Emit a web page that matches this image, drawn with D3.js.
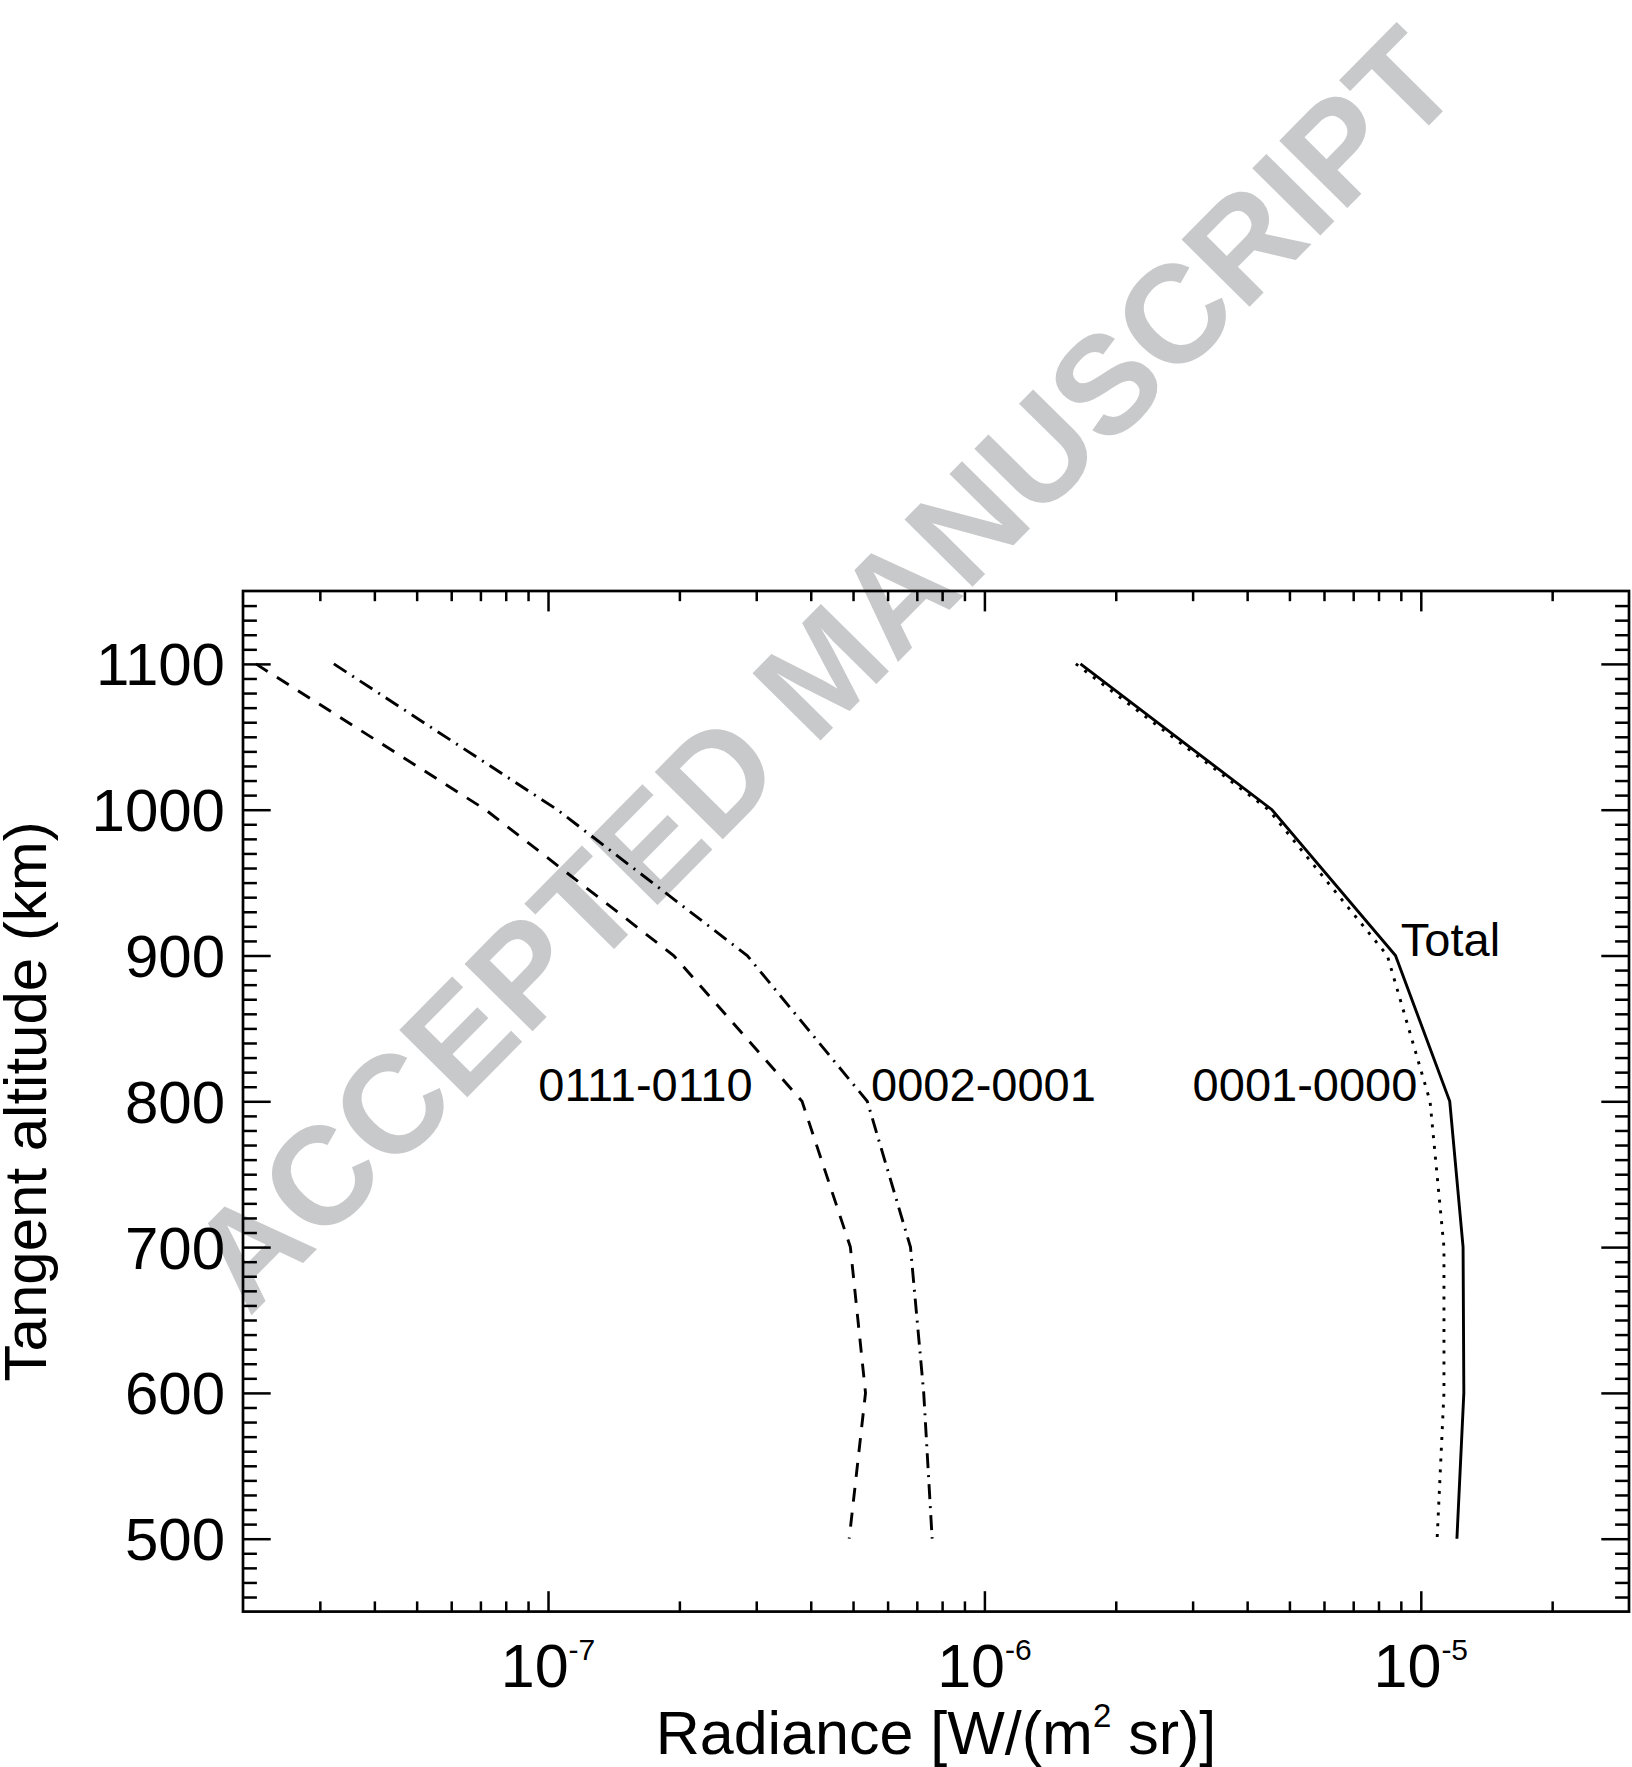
<!DOCTYPE html>
<html>
<head>
<meta charset="utf-8">
<script src="https://cdn.jsdelivr.net/npm/d3@7"></script>
<style>
  body { margin: 0; background: #fff; }
  text { font-family: "Liberation Sans", Arial, Helvetica, sans-serif; }
</style>
</head>
<body>
<script>
var w = 1632,
    h = 1767;

// tangent altitudes (km) and radiances W/(m2 sr)
var altitudes = [1100, 1000, 900, 800, 700, 600, 500];
var band0111 = [2.14e-8, 7.19e-8, 1.94e-7, 3.82e-7, 4.93e-7, 5.34e-7, 4.90e-7];
var band0002 = [3.23e-8, 1.05e-7, 2.86e-7, 5.39e-7, 6.77e-7, 7.26e-7, 7.59e-7];
var band0001 = [1.62e-6, 4.48e-6, 8.38e-6, 1.05e-5, 1.13e-5, 1.13e-5, 1.09e-5];
var total    = [1.66e-6, 4.56e-6, 8.75e-6, 1.165e-5, 1.25e-5, 1.255e-5, 1.21e-5];

var yTicks = [500, 600, 700, 800, 900, 1000, 1100];
var xTicks = [1e-7, 1e-6, 1e-5];
var xTickExp = ['-7', '-6', '-5'];

var labelText = ['0111-0110', '0002-0001', '0001-0000', 'Total'];
var labelRad  = [9.5e-8, 5.5e-7, 3e-6, 9e-6];
var labelAlt  = [800, 800, 800, 900];

var pLeft = 243, pRight = 1629, pTop = 591, pBottom = 1611.6;

var svg = d3.select('body')
            .append('svg')
            .attr('width', w)
            .attr('height', h);

svg.append('rect')
   .attr('width', w)
   .attr('height', h)
   .attr('fill', '#fff');

var x = d3.scaleLog()
          .domain([2e-8, 3e-5])
          .range([pLeft, pRight]);

var y = d3.scaleLinear()
          .domain([450, 1150])
          .range([pBottom, pTop]);

// watermark sits under the curves
svg.append('text')
   .attr('transform', 'translate(822,668) rotate(-45.3)')
   .attr('text-anchor', 'middle')
   .attr('dy', '0.358em')
   .style('font-size', '139px')
   .style('font-weight', 'bold')
   .style('fill', '#c8c9cb')
   .text('ACCEPTED MANUSCRIPT');

// minor tick values
var xMinor = [];
[-8, -7, -6, -5].forEach(function(e) {
  for (var k = 2; k <= 9; k++) {
    var v = k * Math.pow(10, e);
    if (v > 2.01e-8 && v < 2.99e-5) xMinor.push(v);
  }
});
var yMinor = d3.range(460, 1150, 10).filter(function(v) { return v % 100 !== 0; });

function styleAxis(g) {
  g.select('.domain').remove();
  g.selectAll('line').attr('stroke', '#000').attr('stroke-width', 2.5);
  g.selectAll('text').remove();
}

var xMaj = 20.4, xMin = 10.2, yMaj = 27.7, yMin = 13.9;

svg.append('g').attr('transform', 'translate(0,' + pBottom + ')')
   .call(d3.axisBottom(x).tickValues(xTicks).tickSize(-xMaj).tickSizeOuter(0)).call(styleAxis);
svg.append('g').attr('transform', 'translate(0,' + pBottom + ')')
   .call(d3.axisBottom(x).tickValues(xMinor).tickSize(-xMin).tickSizeOuter(0)).call(styleAxis);
svg.append('g').attr('transform', 'translate(0,' + pTop + ')')
   .call(d3.axisTop(x).tickValues(xTicks).tickSize(-xMaj).tickSizeOuter(0)).call(styleAxis);
svg.append('g').attr('transform', 'translate(0,' + pTop + ')')
   .call(d3.axisTop(x).tickValues(xMinor).tickSize(-xMin).tickSizeOuter(0)).call(styleAxis);

svg.append('g').attr('transform', 'translate(' + pLeft + ',0)')
   .call(d3.axisLeft(y).tickValues(yTicks).tickSize(-yMaj).tickSizeOuter(0)).call(styleAxis);
svg.append('g').attr('transform', 'translate(' + pLeft + ',0)')
   .call(d3.axisLeft(y).tickValues(yMinor).tickSize(-yMin).tickSizeOuter(0)).call(styleAxis);
svg.append('g').attr('transform', 'translate(' + pRight + ',0)')
   .call(d3.axisRight(y).tickValues(yTicks).tickSize(-yMaj).tickSizeOuter(0)).call(styleAxis);
svg.append('g').attr('transform', 'translate(' + pRight + ',0)')
   .call(d3.axisRight(y).tickValues(yMinor).tickSize(-yMin).tickSizeOuter(0)).call(styleAxis);

// frame
svg.append('rect')
   .attr('x', pLeft)
   .attr('y', pTop)
   .attr('width', pRight - pLeft)
   .attr('height', pBottom - pTop)
   .attr('fill', 'none')
   .attr('stroke', '#000')
   .attr('stroke-width', 2.7);

// tick labels
svg.selectAll('.ylab')
   .data(yTicks)
   .enter()
   .append('text')
   .attr('x', 225)
   .attr('y', function(d) { return y(d); })
   .attr('dy', '0.358em')
   .attr('text-anchor', 'end')
   .style('font-size', '60px')
   .text(function(d) { return d; });

var xl = svg.selectAll('.xlab')
   .data(xTicks)
   .enter()
   .append('text')
   .attr('x', function(d) { return x(d); })
   .attr('y', 1687)
   .attr('text-anchor', 'middle')
   .style('font-size', '61px');
xl.append('tspan').text('10');
xl.append('tspan')
  .attr('dy', -27)
  .style('font-size', '30px')
  .text(function(d, i) { return xTickExp[i]; });

// axis titles
var xt = svg.append('text')
   .attr('x', (pLeft + pRight) / 2)
   .attr('y', 1754)
   .attr('text-anchor', 'middle')
   .style('font-size', '61px');
xt.append('tspan').text('Radiance [W/(m');
xt.append('tspan').attr('dy', -27).style('font-size', '33px').text('2');
xt.append('tspan').attr('dy', 27).text(' sr)]');

svg.append('text')
   .attr('transform', 'translate(46,' + (pTop + pBottom) / 2 + ') rotate(-90)')
   .attr('text-anchor', 'middle')
   .style('font-size', '60px')
   .text('Tangent altitude (km)');

// curves
var series = [
  { values: band0111, dash: '14,11' },
  { values: band0002, dash: '15,7,2,7' },
  { values: band0001, dash: '3,7.8' },
  { values: total,    dash: null }
];

var line = d3.line()
             .x(function(d) { return x(d[0]); })
             .y(function(d) { return y(d[1]); });

svg.selectAll('.curve')
   .data(series)
   .enter()
   .append('path')
   .attr('d', function(s) {
     return line(s.values.map(function(v, i) { return [v, altitudes[i]]; }));
   })
   .attr('fill', 'none')
   .attr('stroke', '#000')
   .attr('stroke-width', 2.9)
   .attr('stroke-linejoin', 'miter')
   .attr('stroke-dasharray', function(s) { return s.dash; });

// curve labels
svg.selectAll('.clab')
   .data(labelText)
   .enter()
   .append('text')
   .attr('x', function(d, i) { return x(labelRad[i]); })
   .attr('y', function(d, i) { return y(labelAlt[i]); })
   .style('font-size', '47px')
   .text(function(d) { return d; });
</script>
</body>
</html>
